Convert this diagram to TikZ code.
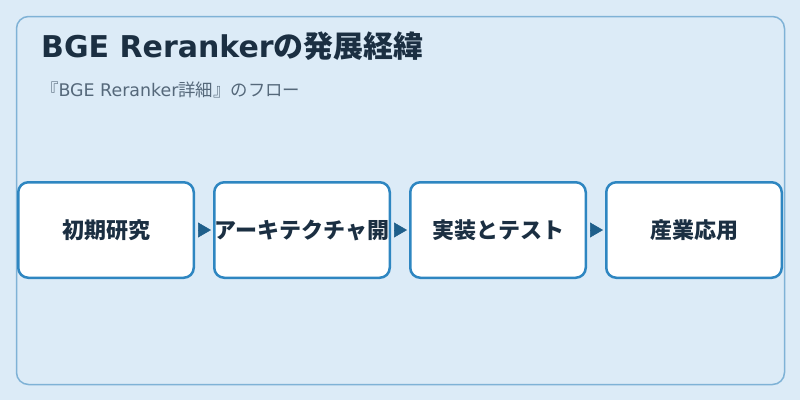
\documentclass[tikz,border=0pt]{standalone}
\usepackage{fontspec}
\setmainfont{Noto Sans CJK JP}
\newfontfamily\latinf{DejaVu Sans}
\usetikzlibrary{arrows.meta}
\definecolor{bg}{HTML}{DCEBF7}
\definecolor{frame}{HTML}{7FB2D6}
\definecolor{boxline}{HTML}{2E86C1}
\definecolor{arrowc}{HTML}{1F5F8B}
\definecolor{titlec}{HTML}{1B2F42}
\definecolor{subc}{HTML}{55687A}
\tikzset{
  stepbox/.style={draw=boxline, line width=2.5pt, fill=white, rounded corners=10pt,
    minimum width=175.5pt, minimum height=95.5pt, inner sep=0pt,
    font=\fontsize{22}{26}\selectfont\bfseries, text=titlec},
  flowarrow/.style={draw=arrowc, fill=arrowc, line width=0.5pt, shorten >=2pt, shorten <=3pt,
    -{Triangle[length=13pt,width=15pt]}},
}
\begin{document}
\begin{tikzpicture}[x=1pt,y=-1pt]
\path[fill=bg] (0,0) rectangle (800,400);
\useasboundingbox (0,0) rectangle (800,400);
\draw[frame, line width=1.5pt, rounded corners=12pt] (16.5,16.5) rectangle (784.5,384.5);
\node[anchor=base west, inner sep=0pt, text=titlec, font=\fontsize{30}{34}\selectfont\bfseries] (title) at (41,57) {{\latinf BGE Reranker}の発展経緯};
\node[anchor=base west, inner sep=0pt, text=subc, font=\fontsize{17.4}{20}\selectfont] (sub) at (41,96) {『{\latinf BGE Reranker}詳細』のフロー};
\node[stepbox] (b1) at (106,230) {初期研究};
\node[stepbox] (b2) at (302,230) {アーキテクチャ開};
\node[stepbox] (b3) at (498,230) {実装とテスト};
\node[stepbox] (b4) at (694,230) {産業応用};
\draw[flowarrow] (b1) -- (b2);
\draw[flowarrow] (b2) -- (b3);
\draw[flowarrow] (b3) -- (b4);
\end{tikzpicture}
\end{document}
